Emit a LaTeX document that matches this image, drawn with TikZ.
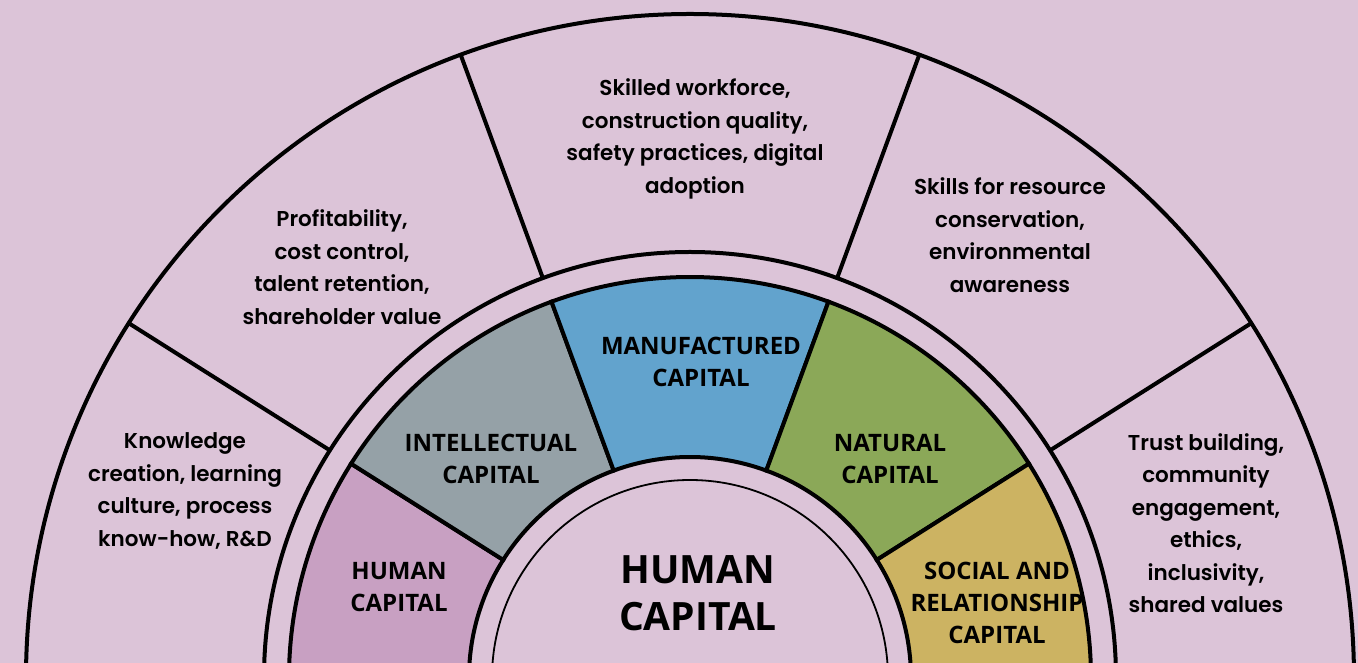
\documentclass[tikz,border=0pt]{standalone}
\usepackage{fontspec}
\setmainfont{Open Sans}
\newfontfamily\notefont{Poppins SemiBold}
\definecolor{capbg}{HTML}{DCC4D8}
\definecolor{caphuman}{HTML}{C8A0C2}
\definecolor{capintel}{HTML}{95A1A7}
\definecolor{capmanuf}{HTML}{62A3CD}
\definecolor{capnatural}{HTML}{8BA858}
\definecolor{capsocial}{HTML}{CCB362}

\begin{document}
\begin{tikzpicture}[
  x=1pt, y=1pt,
  ring/.style={line width=4pt, line join=miter},
  caplabel/.style={align=center, inner sep=0pt, font=\fontsize{24}{32}\selectfont\bfseries},
  notelabel/.style={align=center, inner sep=0pt, font=\notefont\fontsize{21.5}{32.5}\selectfont},
]
\fill[capbg] (-690,15) rectangle (668,678);
\useasboundingbox (-690,15) rectangle (668,678);
\clip (-690,15) rectangle (668,678);

% inner coloured ring
\foreach \a/\b/\c in {147.7/190/caphuman, 110.2/147.7/capintel, 69.8/110.2/capmanuf, 32.3/69.8/capnatural, -10/32.3/capsocial}
  \draw[ring, fill=\c] (\a:221) -- (\a:401) arc[start angle=\a, end angle=\b, radius=401pt]
    -- (\b:221) arc[start angle=\b, end angle=\a, radius=221pt] -- cycle;
\draw[line width=1.8pt] (0,0) circle[radius=198pt];

% outer ring
\draw[ring] (0,0) circle[radius=426pt];
\draw[ring] (0,0) circle[radius=664pt];
\foreach \a in {32.3, 69.8, 110.2, 147.7}
  \draw[ring] (\a:426) -- (\a:664);

\node[align=center, font=\fontsize{39}{47}\selectfont\bfseries] (core) at (8,85) {HUMAN\\CAPITAL};

\node[caplabel] (human) at (-291,91) {HUMAN\\CAPITAL};
\node[caplabel] (intel) at (-199,219) {INTELLECTUAL\\CAPITAL};
\node[caplabel] (manuf) at (11,316) {MANUFACTURED\\CAPITAL};
\node[caplabel] (natural) at (200,219) {NATURAL\\CAPITAL};
\node[caplabel] (social) at (307,75) {SOCIAL AND\\RELATIONSHIP\\CAPITAL};

\node[notelabel] (humannote) at (-505,187) {Knowledge\\creation, learning\\culture, process\\know-how, R\&D};
\node[notelabel] (intelnote) at (-348,411) {Profitability,\\cost control,\\talent retention,\\shareholder value};
\node[notelabel] (manufnote) at (5,539) {Skilled workforce,\\construction quality,\\safety practices, digital\\adoption};
\node[notelabel] (naturalnote) at (320,443) {Skills for resource\\conservation,\\environmental\\awareness};
\node[notelabel] (socialnote) at (516,155) {Trust building,\\community\\engagement,\\ethics,\\inclusivity,\\shared values};
\end{tikzpicture}
\end{document}
